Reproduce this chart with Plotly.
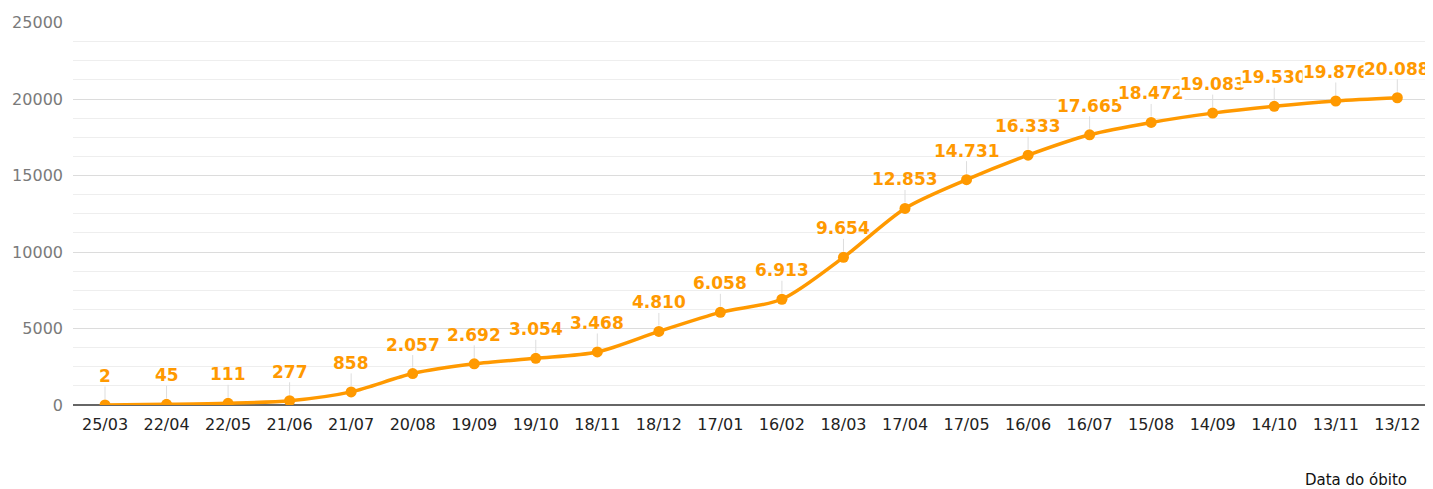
import plotly.graph_objects as go

categories = ["25/03", "22/04", "22/05", "21/06", "21/07", "20/08", "19/09", "19/10", "18/11", "18/12",
              "17/01", "16/02", "18/03", "17/04", "17/05", "16/06", "16/07", "15/08", "14/09", "14/10",
              "13/11", "13/12"]
values = [2, 45, 111, 277, 858, 2057, 2692, 3054, 3468, 4810, 6058, 6913, 9654, 12853, 14731, 16333,
          17665, 18472, 19083, 19530, 19876, 20088]
x_title = "Data do óbito"

ORANGE = "#FF9900"
OFF = 8  # page body margin offset

def fmt(v):
    return f"{v:,}".replace(",", ".")

fig = go.Figure()
fig.add_trace(go.Scatter(
    x=categories, y=values, mode="lines+markers",
    line=dict(color=ORANGE, width=3.5, shape="spline", smoothing=0.8),
    marker=dict(color=ORANGE, size=11),
    hoverinfo="skip", showlegend=False,
))

annotations = []
n = len(values)
for i, (c, v) in enumerate(zip(categories, values)):
    annotations.append(dict(
        x=c, y=v, xref="x", yref="y", text=fmt(v),
        showarrow=True, ax=0, ay=-29, arrowhead=0, arrowwidth=1, arrowcolor="#dddddd",
        standoff=6, bgcolor="white" if i >= n - 6 else "rgba(0,0,0,0)", borderpad=0,
        font=dict(family="DejaVu Sans", size=17, color=ORANGE, weight="bold"),
    ))
annotations.append(dict(
    x=(1356 - 73) / 1352, y=-0.196, xref="paper", yref="paper", text=x_title,
    showarrow=False, xanchor="center", yanchor="middle",
    font=dict(family="DejaVu Sans", size=15, color="#111111"),
))

fig.update_layout(
    width=1433 - OFF, height=489 - OFF,
    margin=dict(l=73 - OFF, r=8, t=22 - OFF, b=84, autoexpand=False),
    paper_bgcolor="white", plot_bgcolor="white",
    annotations=annotations,
    xaxis=dict(
        type="category", range=[-0.52, 21.45], showgrid=False, showline=False, ticks="",
        tickfont=dict(family="DejaVu Sans", size=16, color="#222222"), automargin=False,
        ticklabelstandoff=8,
    ),
    yaxis=dict(
        range=[0, 25040], dtick=5000, tick0=0, showline=False, ticks="", tickformat="d",
        gridcolor="#dcdcdc", gridwidth=1, automargin=False,
        zeroline=True, zerolinecolor="#666666", zerolinewidth=1.5,
        minor=dict(dtick=1250, tick0=0, showgrid=True, gridcolor="#eeeeee", gridwidth=1),
        tickfont=dict(family="DejaVu Sans", size=16, color="#7a7a7a"),
        ticklabelstandoff=9,
    ),
)

fig.write_html("out.html")
